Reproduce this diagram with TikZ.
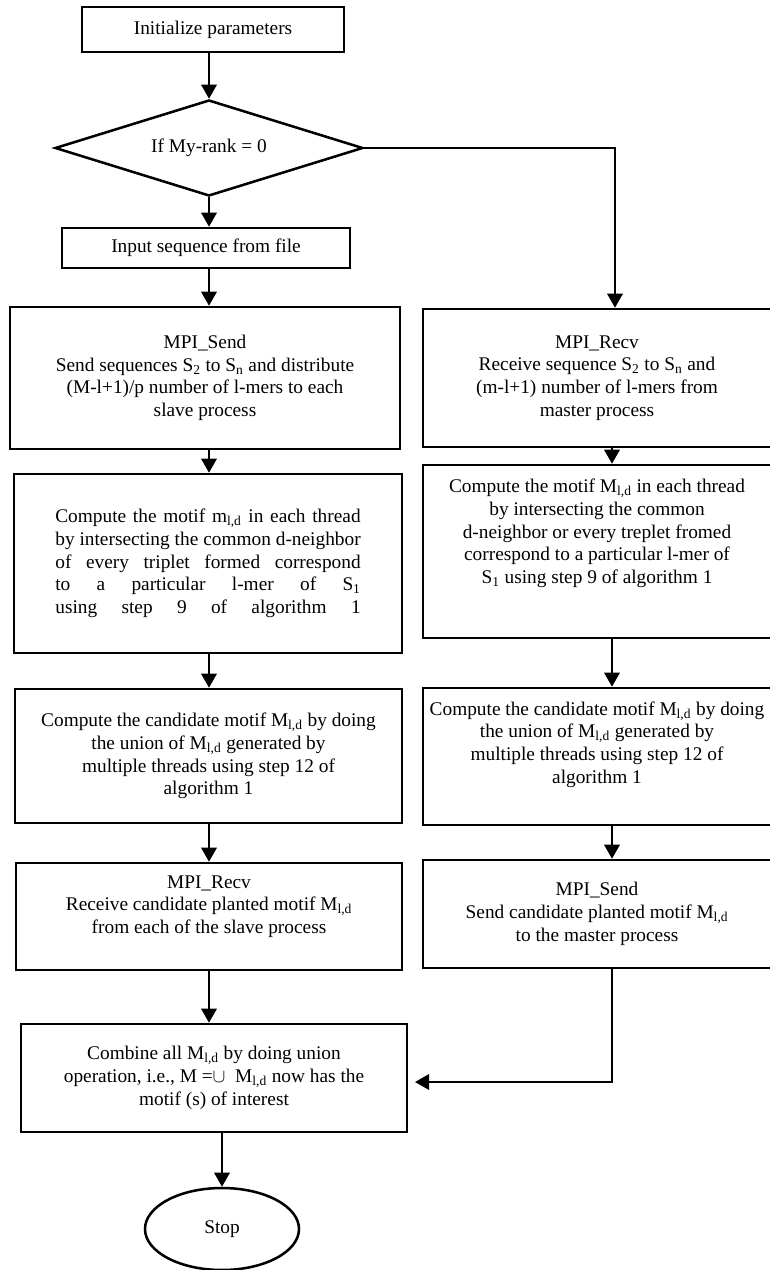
\documentclass[tikz,border=0pt]{standalone}
\usepackage{fontspec}
\setmainfont{Liberation Serif}
\usetikzlibrary{shapes.geometric,arrows.meta}

\newcommand{\spreadline}[1]{\makebox[229pt][s]{#1}}
\newcommand{\Mld}{M\textsubscript{l,d}}

\begin{document}
\begin{tikzpicture}[x=0.75pt,y=0.75pt,yscale=-1,
  font=\fontsize{14.5}{17}\selectfont,
  box/.style={draw,line width=1.9pt,rectangle,align=center,inner sep=2pt},
  arr/.style={line width=1.6pt,-{Triangle[length=10.5pt,width=11.5pt]}}]
\useasboundingbox (0,0) rectangle (769,1270);

% Column lines
\coordinate (lline) at (209,0);
\coordinate (rline) at (612,0);
\coordinate (rturn) at (615,0);
\coordinate (cjoin) at (415,1082);

% Master side
\node[box,minimum width=196.5pt,minimum height=33.75pt] (init) at (213,29.5) {Initialize parameters};
\node[draw,line width=1.9pt,diamond,aspect=3.2,minimum width=231pt,minimum height=72pt,inner sep=0pt] (dec) at (209,148) {If My-rank = 0};
\node[box,minimum width=216pt,minimum height=30pt] (input) at (206,248) {Input sequence from file};
\node[box,minimum width=292.5pt,minimum height=106.5pt] (send) at (205,378) {MPI\_Send\\Send sequences S\textsubscript{2} to S\textsubscript{n} and distribute\\(M-l+1)/p number of l-mers to each\\slave process};
\node[box,minimum width=291pt,minimum height=134.25pt] (comp) at (208,563.5) {\spreadline{Compute the motif m\textsubscript{l,d} in each thread}\\\spreadline{by intersecting the common d-neighbor}\\\spreadline{of every triplet formed correspond}\\\spreadline{to a particular l-mer of S\textsubscript{1}}\\\spreadline{using step 9 of algorithm 1}};
\node[box,minimum width=290.25pt,minimum height=100.5pt] (cand) at (208.5,756) {Compute the candidate motif \Mld{} by doing\\the union of \Mld{} generated by\\multiple threads using step 12 of\\algorithm 1};
\node[box,minimum width=289.5pt,minimum height=80.25pt] (recv) at (209,916.5) {MPI\_Recv\\Receive candidate planted motif \Mld\\from each of the slave process\\[1pt]\mbox{}};
\node[box,minimum width=289.5pt,minimum height=81pt] (comb) at (214,1078) {Combine all \Mld{} by doing union\\operation, i.e., M =$\cup$\enspace\Mld{} now has the\\motif (s) of interest};
\node[draw,line width=1.9pt,ellipse,minimum width=115.5pt,minimum height=61.5pt] (stop) at (222,1229) {Stop};

% Slave side
\node[box,minimum width=261pt,minimum height=103.5pt] (rrecv) at (597,378) {MPI\_Recv\\Receive sequence S\textsubscript{2} to S\textsubscript{n} and\\(m-l+1) number of l-mers from\\master process};
\node[box,minimum width=261pt,minimum height=129.75pt] (rcomp) at (597,551.5) {Compute the motif \Mld{} in each thread\\by intersecting the common\\d-neighbor or every treplet fromed\\correspond to a particular l-mer of\\S\textsubscript{1} using step 9 of algorithm 1\\[13pt]\mbox{}};
\node[box,minimum width=261pt,minimum height=102.75pt] (rcand) at (597,756.5) {Compute the candidate motif \Mld{} by doing\\the union of \Mld{} generated by\\multiple threads using step 12 of\\algorithm 1\\[4pt]\mbox{}};
\node[box,minimum width=261pt,minimum height=81pt] (rsend) at (597,914) {MPI\_Send\\Send candidate planted motif \Mld\\to the master process};

% Connections
\draw[arr] (lline |- init.south) -- (dec.north);
\draw[arr] (lline |- dec.south) -- (lline |- input.north);
\draw[arr] (lline |- input.south) -- (lline |- send.north);
\draw[arr] (lline |- send.south) -- (lline |- comp.north);
\draw[arr] (lline |- comp.south) -- (lline |- cand.north);
\draw[arr] (lline |- cand.south) -- (lline |- recv.north);
\draw[arr] (lline |- recv.south) -- (lline |- comb.north);
\draw[arr] (stop.north |- comb.south) -- (stop.north);
\draw[arr] (dec.east) -| (rturn |- rrecv.north);
\draw[arr] (rline |- rrecv.south) -- (rline |- rcomp.north);
\draw[arr] (rline |- rcomp.south) -- (rline |- rcand.north);
\draw[arr] (rline |- rcand.south) -- (rline |- rsend.north);
\draw[arr] (rline |- rsend.south) |- (cjoin);

\end{tikzpicture}
\end{document}
